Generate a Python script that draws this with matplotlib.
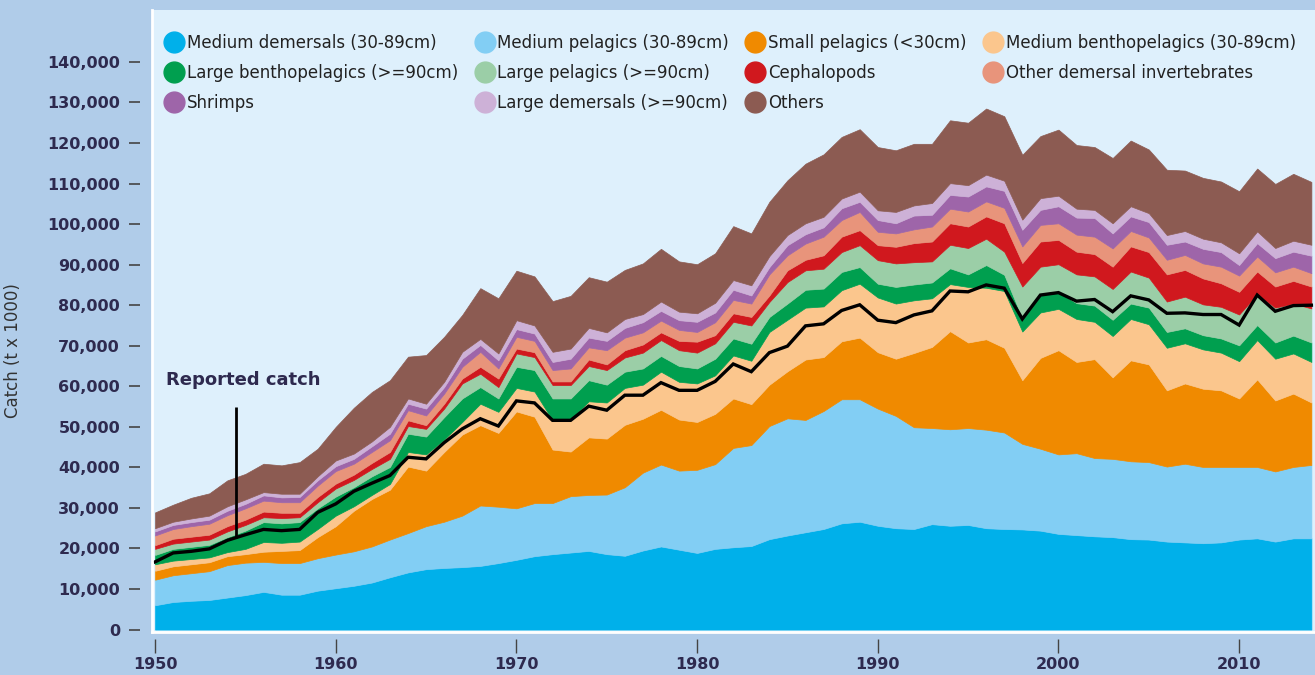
import numpy as np
import matplotlib.pyplot as plt
from matplotlib.lines import Line2D

years = np.arange(1950, 2015)

# upper edge of each stacked band, in thousands (x 1000 t x 1000)
top_med_demersals = [6.0, 6.8, 7.1, 7.3, 7.9, 8.5, 9.3, 8.6, 8.6, 9.6,
                     10.2, 10.8, 11.6, 12.9, 14.1, 14.9, 15.2, 15.4, 15.7, 16.4,
                     17.2, 18.1, 18.6, 19.0, 19.4, 18.6, 18.2, 19.5, 20.5, 19.7,
                     18.9, 19.9, 20.3, 20.6, 22.3, 23.2, 24.0, 24.8, 26.2, 26.6,
                     25.6, 25.0, 24.8, 26.0, 25.6, 25.8, 25.0, 24.8, 24.7, 24.4,
                     23.6, 23.3, 23.0, 22.8, 22.3, 22.2, 21.7, 21.5, 21.3, 21.5,
                     22.2, 22.5, 21.7, 22.5, 22.5]
top_med_pelagics = [12.3, 13.4, 13.9, 14.4, 15.9, 16.5, 16.7, 16.4, 16.4, 17.6,
                    18.5, 19.3, 20.5, 22.2, 23.8, 25.5, 26.6, 28.1, 30.6, 30.3,
                    29.9, 31.2, 31.2, 32.9, 33.2, 33.3, 35.1, 38.7, 40.7, 39.2,
                    39.4, 40.8, 44.8, 45.5, 50.2, 52.1, 51.7, 53.9, 56.8, 56.8,
                    54.5, 52.7, 49.9, 49.7, 49.4, 49.7, 49.3, 48.6, 45.8, 44.6,
                    43.2, 43.5, 42.3, 42.1, 41.5, 41.3, 40.2, 40.9, 40.1, 40.1,
                    40.1, 40.1, 39.0, 40.1, 40.6]
top_small_pelagics = [14.5, 15.6, 16.1, 16.6, 18.1, 18.6, 19.2, 19.4, 19.6, 22.8,
                      25.5, 29.3, 32.2, 34.5, 40.2, 39.2, 43.8, 48.1, 50.4, 48.5,
                      53.8, 52.5, 44.4, 43.9, 47.4, 47.1, 50.5, 52.0, 54.2, 51.8,
                      51.2, 53.2, 57.0, 55.6, 60.4, 63.7, 66.6, 67.2, 71.1, 72.0,
                      68.4, 66.8, 68.2, 69.7, 73.6, 70.8, 71.6, 69.5, 61.5, 67.0,
                      68.9, 66.0, 66.7, 62.2, 66.4, 65.4, 59.0, 60.7, 59.4, 59.0,
                      57.0, 61.7, 56.5, 58.2, 56.0]
top_med_benthopelagics = [16.1, 17.0, 17.4, 17.8, 19.1, 19.9, 21.6, 21.4, 21.7, 24.8,
                          28.1, 30.4, 33.2, 35.9, 43.8, 43.2, 46.9, 51.2, 55.7, 53.7,
                          59.6, 58.7, 51.6, 51.9, 56.3, 56.0, 59.6, 60.4, 63.6, 61.1,
                          60.7, 62.7, 67.6, 66.3, 73.4, 76.4, 79.4, 79.7, 83.7, 85.3,
                          81.9, 80.4, 81.2, 81.7, 85.2, 84.5, 84.3, 83.5, 73.5, 78.2,
                          79.1, 76.6, 75.9, 72.4, 76.6, 75.3, 69.5, 70.6, 69.1, 68.3,
                          66.2, 71.4, 66.8, 68.1, 66.0]
top_large_benthopelagics = [18.4, 19.9, 20.4, 20.9, 22.8, 24.4, 26.5, 26.2, 26.5, 29.9,
                            32.8, 35.1, 37.8, 40.1, 48.3, 47.6, 52.4, 57.0, 59.8, 57.0,
                            64.8, 64.0, 57.0, 57.0, 61.5, 60.4, 63.6, 64.4, 67.5, 65.0,
                            64.4, 66.8, 71.8, 70.5, 77.1, 80.4, 83.8, 84.1, 88.2, 89.4,
                            85.3, 84.5, 85.1, 85.6, 89.1, 87.6, 89.9, 87.5, 76.8, 82.5,
                            83.4, 80.5, 79.9, 76.4, 80.4, 79.4, 73.4, 74.3, 72.6, 71.8,
                            70.1, 75.1, 70.8, 72.5, 70.8]
top_large_pelagics = [19.9, 21.2, 21.7, 22.2, 24.2, 25.8, 27.7, 27.5, 27.7, 31.4,
                      34.8, 36.9, 39.6, 42.1, 50.2, 49.5, 54.5, 60.7, 63.1, 59.8,
                      68.1, 67.2, 60.3, 60.3, 65.0, 64.0, 67.1, 68.3, 71.4, 68.9,
                      68.3, 70.6, 75.9, 75.0, 80.8, 85.7, 88.6, 89.0, 93.1, 94.8,
                      91.1, 90.3, 90.6, 90.8, 94.9, 94.1, 96.4, 93.2, 84.6, 89.5,
                      90.1, 87.6, 87.1, 84.0, 88.3, 86.8, 80.9, 82.1, 80.2, 79.6,
                      77.7, 82.7, 79.4, 80.4, 79.2]
top_cephalopods = [20.8, 22.4, 22.9, 23.4, 25.5, 27.1, 29.1, 28.8, 28.8, 32.7,
                   36.0, 38.2, 41.1, 43.8, 51.6, 50.4, 55.7, 61.9, 64.8, 61.9,
                   69.3, 68.4, 61.2, 61.2, 66.6, 65.4, 68.9, 70.3, 73.3, 71.2,
                   71.0, 72.6, 78.0, 77.1, 82.4, 88.6, 91.2, 92.3, 96.9, 98.5,
                   94.8, 94.4, 95.3, 95.7, 100.2, 99.4, 101.9, 100.2, 90.4, 95.7,
                   96.1, 93.2, 92.6, 89.5, 94.5, 93.1, 87.6, 88.7, 86.6, 85.4,
                   83.3, 88.3, 84.6, 86.0, 84.6]
top_other_dem_invert = [23.2, 24.8, 25.5, 26.1, 28.2, 29.9, 31.8, 31.4, 31.4, 35.5,
                        39.1, 40.9, 43.8, 46.7, 54.1, 52.8, 58.2, 64.8, 68.5, 64.4,
                        72.2, 71.2, 64.0, 64.4, 69.6, 68.9, 72.0, 73.3, 76.2, 73.9,
                        73.4, 75.8, 81.3, 80.4, 87.6, 92.3, 95.2, 96.9, 101.0, 103.0,
                        98.1, 97.7, 98.7, 99.4, 103.8, 103.1, 105.6, 104.0, 94.5, 99.8,
                        100.2, 97.4, 96.9, 94.0, 98.3, 96.7, 91.2, 92.4, 90.3, 89.5,
                        87.3, 92.0, 88.1, 89.5, 87.9]
top_shrimps = [24.2, 25.8, 26.5, 27.1, 29.3, 31.0, 33.1, 32.6, 32.7, 36.8,
               40.3, 42.1, 45.2, 48.3, 55.7, 54.5, 59.8, 66.8, 70.2, 66.4,
               74.1, 73.0, 66.0, 66.8, 72.0, 71.2, 74.4, 75.8, 78.6, 76.3,
               75.9, 78.2, 83.8, 82.4, 89.4, 94.8, 97.5, 99.2, 103.9, 105.5,
               101.0, 100.2, 102.1, 102.3, 107.2, 106.8, 109.3, 108.2, 98.6, 103.5,
               104.4, 101.6, 101.5, 97.7, 101.9, 100.5, 94.9, 95.7, 93.9, 93.1,
               89.9, 95.3, 91.6, 93.2, 92.2]
top_large_demersals = [25.0, 26.6, 27.4, 28.1, 30.4, 32.1, 33.9, 33.5, 33.5, 37.8,
                       41.7, 43.4, 46.4, 50.0, 57.0, 55.7, 61.1, 68.5, 71.7, 68.1,
                       76.3, 75.0, 68.5, 69.3, 74.4, 73.3, 76.6, 77.8, 80.9, 78.4,
                       78.0, 80.6, 86.2, 84.9, 92.1, 97.3, 100.2, 101.8, 106.3, 108.0,
                       103.4, 103.0, 104.6, 105.2, 110.1, 109.6, 112.2, 110.7, 101.1, 106.4,
                       107.0, 103.8, 103.5, 100.2, 104.4, 102.7, 97.3, 98.3, 96.4, 95.5,
                       92.8, 98.2, 94.1, 95.9, 94.9]
top_others = [28.9, 30.8, 32.5, 33.6, 36.8, 38.4, 40.9, 40.5, 41.3, 44.6,
              50.0, 54.7, 58.6, 61.5, 67.3, 67.7, 72.2, 77.6, 84.2, 81.7,
              88.5, 87.1, 81.0, 82.3, 86.9, 85.8, 88.7, 90.3, 93.9, 90.8,
              90.1, 92.8, 99.5, 97.7, 105.5, 110.8, 114.9, 117.2, 121.5, 123.4,
              119.0, 118.2, 119.8, 119.8, 125.6, 125.0, 128.5, 126.6, 117.1, 121.7,
              123.3, 119.5, 119.0, 116.3, 120.6, 118.4, 113.4, 113.2, 111.4, 110.5,
              108.1, 113.7, 109.9, 112.4, 110.4]
reported = [16.7, 18.9, 19.3, 19.9, 22.0, 23.4, 24.7, 24.4, 24.7, 28.9,
            31.0, 34.1, 36.1, 38.0, 42.5, 42.1, 46.1, 49.5, 52.0, 50.2,
            56.4, 55.9, 51.6, 51.6, 55.1, 54.1, 57.8, 57.8, 60.9, 59.0,
            59.0, 61.2, 65.5, 63.6, 68.3, 69.9, 74.9, 75.4, 78.7, 80.1,
            76.3, 75.7, 77.6, 78.6, 83.5, 83.3, 85.0, 84.2, 76.6, 82.5,
            83.1, 81.0, 81.4, 78.4, 82.3, 81.3, 78.0, 78.1, 77.7, 77.7,
            75.1, 82.5, 78.5, 79.9, 80.0]

layers = [
    ('Medium demersals (30-89cm)', '#00b0ea', top_med_demersals),
    ('Medium pelagics (30-89cm)', '#82cef4', top_med_pelagics),
    ('Small pelagics (<30cm)', '#f08a00', top_small_pelagics),
    ('Medium benthopelagics (30-89cm)', '#fbc68d', top_med_benthopelagics),
    ('Large benthopelagics (>=90cm)', '#009f4f', top_large_benthopelagics),
    ('Large pelagics (>=90cm)', '#9bcea7', top_large_pelagics),
    ('Cephalopods', '#d0181e', top_cephalopods),
    ('Other demersal invertebrates', '#e8947b', top_other_dem_invert),
    ('Shrimps', '#9e65a9', top_shrimps),
    ('Large demersals (>=90cm)', '#cdb1d7', top_large_demersals),
    ('Others', '#8c5b52', top_others),
]

navy = '#2e2a4f'

fig = plt.figure(figsize=(13.15, 6.75), dpi=100, facecolor='#b0cce9')
ax = fig.add_axes([0.1156, 0.0637, 0.8844, 0.9215])
ax.set_facecolor('#def0fc')

lower = np.zeros(len(years))
for name, col, top in layers:
    upper = np.array(top) * 1000
    ax.fill_between(years, lower, upper, facecolor=col, edgecolor=col, lw=0.5)
    lower = upper

ax.plot(years, np.array(reported) * 1000, color='black', lw=2.4, solid_joinstyle='miter')

# annotation for the black line
ax.text(1950.6, 61500, 'Reported catch', fontsize=13, fontweight='bold', color=navy, va='center')
ax.vlines(1954.5, 22500, 55000, color='black', lw=2)

ax.set_xlim(1949.83, 2014.2)
ax.set_ylim(-600, 152800)

yt = np.arange(0, 140001, 10000)
ax.set_yticks(yt)
ax.set_yticklabels([f'{v:,}' for v in yt])
ax.set_xticks(range(1950, 2011, 10))
ax.set_xticklabels([str(y) for y in range(1950, 2011, 10)])

for s in ax.spines.values():
    s.set_visible(False)
ax.spines['left'].set_position(('outward', 9))
ax.spines['bottom'].set_position(('outward', 5))
ax.tick_params(axis='y', length=8, width=1.2, color='#444444', pad=6, labelsize=11.5, labelcolor=navy)
ax.tick_params(axis='x', length=10, width=1, color='#444444', pad=3, labelsize=11.5, labelcolor=navy)
for lbl in ax.get_xticklabels() + ax.get_yticklabels():
    lbl.set_fontweight('bold')

# thin white frame on the left and bottom of the panel
ax.plot([0, 0], [0, 1], transform=ax.transAxes, color='white', lw=2, clip_on=False)
ax.plot([0, 1], [0, 0], transform=ax.transAxes, color='white', lw=2, clip_on=False)

ax.set_ylabel('Catch (t x 1000)', fontsize=12, color='#333333')
ax.yaxis.set_label_coords(-0.112, 0.453)

# legend: filled circles, 4 columns, filled column by column
order = [0, 4, 8, 1, 5, 9, 2, 6, 10, 3, 7]
handles = [Line2D([], [], ls='', marker='o', markersize=15,
                  markerfacecolor=layers[i][1], markeredgecolor=layers[i][1]) for i in order]
labels = [layers[i][0] for i in order]
ax.legend(handles, labels, ncol=4, loc='upper left', bbox_to_anchor=(0.004, 0.972),
          frameon=False, fontsize=12, handletextpad=0.1, columnspacing=0.95,
          labelspacing=0.72, borderaxespad=0, handlelength=1.3, labelcolor='#222222')

fig.savefig('out.png', dpi=100, facecolor=fig.get_facecolor())
